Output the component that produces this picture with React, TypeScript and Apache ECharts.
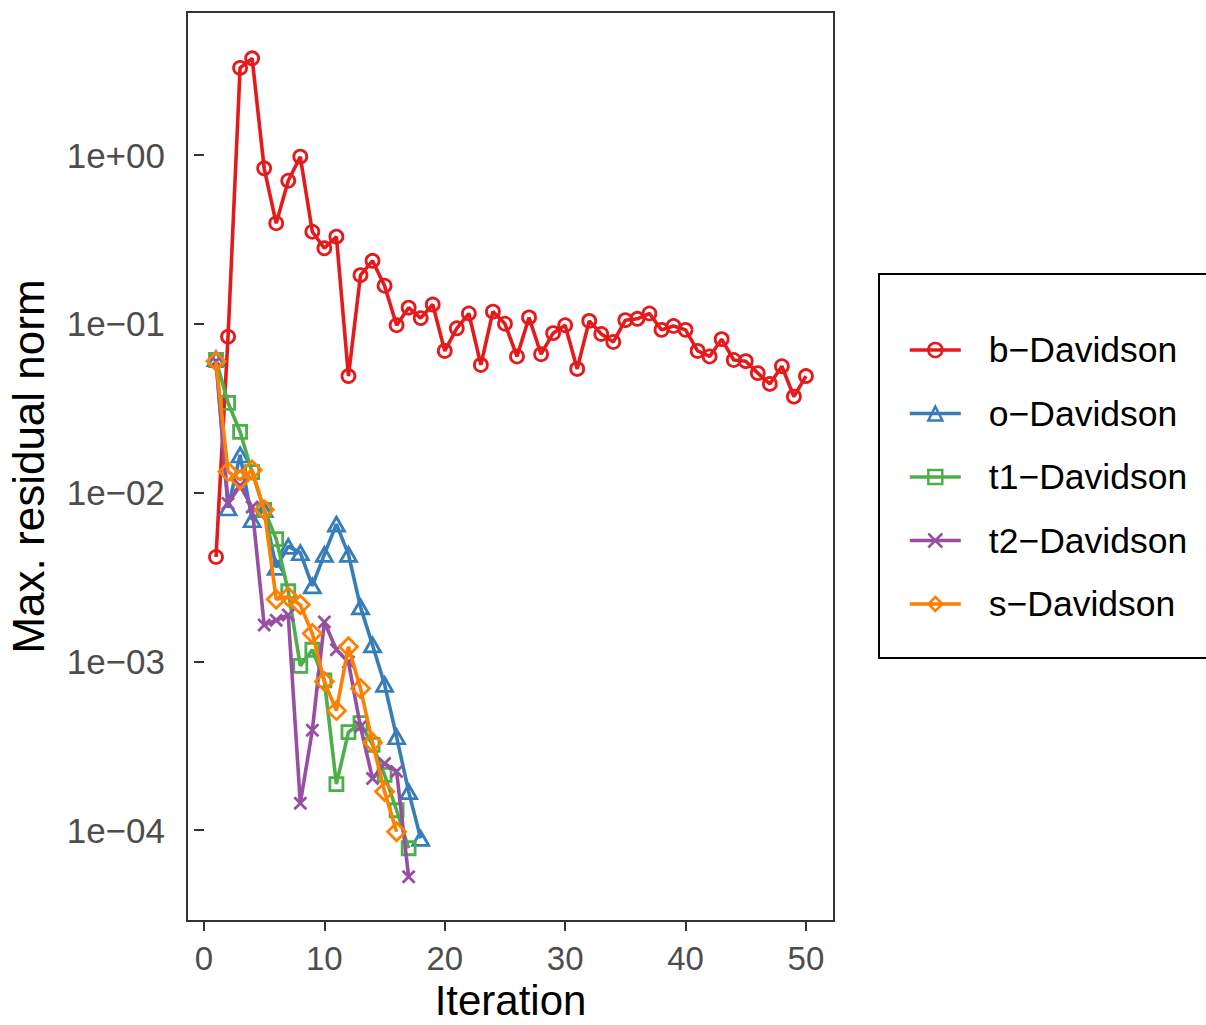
import React, { useEffect, useRef } from "react";
import * as echarts from "echarts";

const seriesNames = ["b\u2212Davidson", "o\u2212Davidson", "t1\u2212Davidson", "t2\u2212Davidson", "s\u2212Davidson"];
const seriesColors = ["#E41A1C", "#377EB8", "#4DAF4A", "#984EA3", "#FF7F00"];

const bDavidson = [0.00415, 0.0838, 3.28, 3.74, 0.834, 0.394, 0.704, 0.977, 0.351, 0.28, 0.328, 0.049, 0.194, 0.236, 0.168, 0.098, 0.1245, 0.108, 0.13, 0.069, 0.094, 0.115, 0.057, 0.118, 0.1, 0.064, 0.109, 0.066, 0.088, 0.098, 0.054, 0.104, 0.087, 0.078, 0.105, 0.107, 0.115, 0.092, 0.097, 0.092, 0.069, 0.064, 0.081, 0.061, 0.06, 0.051, 0.044, 0.056, 0.037, 0.049];
const oDavidson = [0.062, 0.0081, 0.0167, 0.0069, 0.0079, 0.0036, 0.0048, 0.0044, 0.0028, 0.0043, 0.0065, 0.0043, 0.0021, 0.00125, 0.00073, 0.000357, 0.000169, 0.0000893];
const t1Davidson = [0.061, 0.034, 0.0229, 0.0132, 0.0079, 0.0053, 0.0026, 0.00094, 0.00117, 0.00077, 0.000187, 0.00038, 0.00043, 0.00032, 0.000212, 0.000131, 0.000078];
const t2Davidson = [0.06, 0.0086, 0.011, 0.0082, 0.00164, 0.00175, 0.00188, 0.000144, 0.00039, 0.00171, 0.00117, 0.00099, 0.00041, 0.000202, 0.000248, 0.000222, 0.0000529];
const sDavidson = [0.06, 0.0133, 0.0119, 0.0136, 0.0079, 0.00233, 0.00241, 0.00216, 0.00146, 0.00076, 0.00051, 0.00122, 0.00069, 0.00033, 0.000169, 0.0000977];

const xTicks = [0, 10, 20, 30, 40, 50];
const yTicks = [1e-4, 1e-3, 1e-2, 1e-1, 1];

const allSeries = [bDavidson, oDavidson, t1Davidson, t2Davidson, sDavidson];
const symbols = [
  "circle",
  "triangle",
  "rect",
  "path://M0,0L10,10M10,0L0,10",
  "diamond",
];
const symbolSizes: any[] = [13, [16, 14], 13, 12, 18];

function fmtY(v: number) {
  const e = Math.round(Math.log10(v));
  const s = String(Math.abs(e)).padStart(2, "0");
  return "1e" + (e >= 0 ? "+" : "\u2212") + s;
}

export default function App() {
  const ref = useRef<HTMLDivElement>(null);
  useEffect(() => {
    if (!ref.current) return;
    const chart = echarts.init(ref.current, null, { renderer: "svg" });
    const font = "'Liberation Sans', Arial, sans-serif";
    chart.setOption({
      animation: false,
      backgroundColor: "#ffffff",
      textStyle: { fontFamily: font },
      grid: {
        left: 187,
        top: 12,
        width: 647,
        height: 909,
        show: true,
        borderColor: "#333333",
        borderWidth: 2,
        backgroundColor: "transparent",
        outerBoundsMode: "none",
        containLabel: false,
      },
      xAxis: {
        type: "value",
        min: -1.41,
        max: 52.33,
        name: "Iteration",
        nameLocation: "middle",
        nameGap: 60,
        nameTextStyle: { fontSize: 42, lineHeight: 36, color: "#000000", fontFamily: font },
        axisLine: { show: false },
        splitLine: { show: false },
        axisTick: {
          show: true,
          length: 10,
          customValues: xTicks,
          lineStyle: { color: "#333333", width: 2 },
        },
        axisLabel: {
          customValues: xTicks,
          margin: 21,
          fontSize: 33,
          color: "#4D4D4D",
          fontFamily: font,
        },
      },
      yAxis: {
        type: "log",
        logBase: 10,
        min: Math.pow(10, -4.539),
        max: Math.pow(10, 0.8474),
        name: "Max. residual norm",
        nameLocation: "middle",
        nameGap: 137,
        nameTextStyle: { fontSize: 44, color: "#000000", fontFamily: font },
        axisLine: { show: false },
        splitLine: { show: false },
        axisTick: {
          show: true,
          length: 10,
          customValues: yTicks,
          lineStyle: { color: "#333333", width: 2 },
        },
        axisLabel: {
          customValues: yTicks,
          margin: 22,
          fontSize: 35,
          color: "#4D4D4D",
          fontFamily: font,
          formatter: (v: number) => fmtY(v),
        },
      },
      legend: {
        orient: "vertical",
        left: 879,
        top: 274,
        backgroundColor: "#ffffff",
        borderColor: "#000000",
        borderWidth: 2,
        borderRadius: 0,
        padding: [56, 40, 34, 29],
        itemWidth: 51,
        itemHeight: 17.5,
        itemGap: 23.5,
        lineStyle: { width: 3.6 },
        itemStyle: { borderWidth: 2.5 },
        textStyle: {
          fontSize: 35.5,
          color: "#000000",
          fontFamily: font,
          lineHeight: 40,
          padding: [0, 0, 0, 23],
        },
        data: seriesNames,
      },
      series: allSeries.map((vals, i) => ({
        name: seriesNames[i],
        type: "line",
        data: vals.map((v, k) => [k + 1, v]),
        symbol: symbols[i],
        symbolSize: symbolSizes[i],
        showAllSymbol: true,
        lineStyle: { color: seriesColors[i], width: 3.6 },
        itemStyle: {
          color: "rgba(0,0,0,0)",
          borderColor: seriesColors[i],
          borderWidth: 2.8,
        },
        emphasis: { disabled: true },
        z: 2 + i,
      })),
    });
    return () => chart.dispose();
  }, []);
  return (
    <div
      ref={ref}
      style={{ position: "fixed", left: 0, top: 0, width: 1206, height: 1025 }}
    />
  );
}
